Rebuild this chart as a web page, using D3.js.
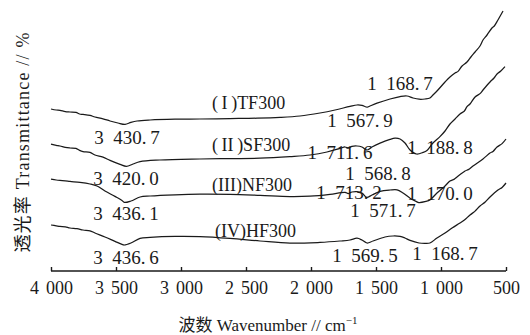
<!DOCTYPE html>
<html>
<head>
<meta charset="utf-8">
<script src="https://cdn.jsdelivr.net/npm/d3@7"></script>
<style>
  html, body { margin: 0; padding: 0; background: #fff; }
  svg { display: block; }
  text { font-family: "Liberation Serif", "Times New Roman", "Noto Sans CJK SC", serif; fill: #1a1a1a; }
</style>
</head>
<body>
<svg id="chart" width="530" height="335"></svg>
<script>
// FTIR spectra of the four fired samples, stacked with vertical offsets.
// Each pair is [wavenumber (cm^-1), transmittance (arbitrary offset units)].
const seriesNames = ["(\u2009I\u2009)TF300", "(\u2009II\u2009)SF300", "(III)NF300", "(IV)HF300"];

const tf300 = [
  [4000, 80.5], [3960, 80.0], [3931, 79.8], [3890, 79.2], [3854, 79.0], [3808, 78.8], [3780, 78.0],
  [3754, 77.8], [3700, 77.3], [3662, 76.5], [3600, 75.6], [3546, 74.5], [3485, 73.5], [3430.7, 72.8],
  [3385, 73.8], [3338, 74.5], [3238, 75.0], [3046, 75.4], [2854, 75.5], [2623, 75.7], [2415, 75.9],
  [2238, 76.3], [2085, 77.0], [1931, 78.5], [1815, 80.0], [1700, 81.8], [1646, 82.5], [1608, 82.3],
  [1567.9, 81.4], [1546, 82.0], [1492, 83.4], [1392, 85.5], [1315, 86.7], [1262, 87.0], [1215, 86.0],
  [1168.7, 85.4], [1123, 85.5], [1085, 86.0], [1062, 87.5], [1031, 89.5], [969, 94.0], [931, 96.5],
  [892, 98.5], [869, 99.3], [838, 102.0], [800, 104.0], [770, 106.5], [738, 109.0], [700, 112.0],
  [677, 115.0], [646, 117.5], [608, 121.0], [590, 122.0], [562, 125.0], [523, 129.5]
];

const sf300 = [
  [4000, 62.9], [3960, 62.3], [3931, 62.0], [3890, 61.3], [3854, 61.0], [3808, 60.8], [3780, 59.8],
  [3754, 59.2], [3700, 58.8], [3662, 57.5], [3600, 56.4], [3546, 54.8], [3469, 52.8], [3420.0, 51.8],
  [3369, 53.0], [3315, 54.2], [3162, 55.0], [2854, 55.5], [2623, 55.7], [2392, 55.9], [2162, 56.7],
  [2008, 57.5], [1877, 59.0], [1777, 60.8], [1738, 61.5], [1711.6, 60.9], [1685, 61.8], [1646, 62.0],
  [1608, 61.5], [1568.8, 60.0], [1531, 61.5], [1469, 63.4], [1392, 65.3], [1354, 65.9], [1315, 65.5],
  [1277, 63.5], [1238, 60.0], [1188.8, 58.0], [1138, 58.8], [1108, 59.8], [1062, 63.5], [1008, 66.7],
  [969, 69.5], [931, 73.0], [892, 75.5], [854, 78.0], [820, 79.5], [800, 81.7], [777, 83.0],
  [738, 86.5], [700, 88.2], [677, 90.0], [623, 94.0], [592, 96.0], [569, 98.0], [540, 99.5], [508, 101.7]
];

const nf300 = [
  [4000, 45.4], [3960, 45.0], [3931, 44.8], [3890, 44.6], [3854, 44.3], [3777, 43.8], [3700, 43.0],
  [3646, 42.0], [3585, 39.5], [3508, 36.8], [3454, 34.8], [3436.1, 33.8], [3385, 34.5], [3315, 36.5],
  [3238, 37.0], [3046, 37.6], [2854, 37.9], [2623, 37.8], [2392, 37.3], [2162, 36.7], [2008, 36.9],
  [1854, 37.8], [1738, 38.8], [1713.2, 38.2], [1685, 39.0], [1646, 39.2], [1608, 38.5], [1571.7, 36.3],
  [1531, 37.5], [1469, 39.3], [1392, 40.0], [1338, 40.1], [1292, 38.5], [1238, 35.9], [1192, 34.3],
  [1170.0, 33.7], [1115, 34.3], [1085, 35.0], [1031, 38.5], [969, 42.0], [931, 44.5], [900, 45.3],
  [877, 46.5], [815, 49.5], [790, 50.2], [754, 52.0], [677, 55.5], [623, 58.5], [600, 59.3],
  [569, 61.5], [530, 63.2], [500, 65.5]
];

const hf300 = [
  [4000, 22.5], [3960, 22.1], [3931, 21.8], [3890, 21.6], [3854, 21.0], [3800, 20.7], [3754, 20.0],
  [3700, 19.6], [3662, 18.5], [3585, 16.5], [3508, 14.3], [3454, 12.8], [3436.6, 12.5], [3385, 13.5],
  [3315, 15.8], [3238, 16.3], [3046, 16.8], [2854, 16.7], [2623, 15.8], [2392, 14.5], [2162, 13.4],
  [1931, 13.8], [1777, 14.5], [1700, 15.0], [1646, 15.9], [1608, 15.0], [1569.5, 13.5], [1523, 14.5],
  [1431, 16.5], [1369, 17.0], [1315, 16.8], [1277, 16.0], [1238, 14.8], [1168.7, 13.5], [1123, 13.3],
  [1085, 13.5], [1031, 16.0], [969, 18.5], [915, 21.0], [854, 23.5], [820, 25.0], [777, 27.5],
  [740, 29.3], [700, 32.0], [660, 34.0], [623, 36.5], [562, 40.0], [530, 41.3], [500, 43.5]
];

// Labelled absorption bands of each spectrum (cm^-1)
const tfPeaks = [3430.7, 1567.9, 1168.7];
const sfPeaks = [3420.0, 1711.6, 1568.8, 1188.8];
const nfPeaks = [3436.1, 1713.2, 1571.7, 1170.0];
const hfPeaks = [3436.6, 1569.5, 1168.7];

const xTicks = [4000, 3500, 3000, 2500, 2000, 1500, 1000, 500];

const yTitle = "\u900f\u5149\u7387 Transmittance // %";
const xTitleCn = "\u6ce2\u6570 Wavenumber // cm";

// ---------------------------------------------------------------------------
const svg = d3.select("#chart");
const x = d3.scaleLinear().domain([4000, 500]).range([51, 506]);
const y = d3.scaleLinear().domain([0, 135]).range([270, 0]);

// "3 430. 7" style number formatting with thin group spacing
function fmtWn(v) {
  const s = v.toFixed(1);
  const [ip, dp] = s.split(".");
  const head = ip.length > 3 ? ip.slice(0, ip.length - 3) + "\u2002" + ip.slice(-3) : ip;
  return head + ".\u2009" + dp;
}
function fmtTick(v) {
  const s = String(v);
  return s.length > 3 ? s.slice(0, s.length - 3) + "\u2009\u2009" + s.slice(-3) : s;
}

const line = d3.line()
  .x(d => x(d[0]))
  .y(d => y(d[1]))
  .curve(d3.curveCatmullRom.alpha(0.5));

const spectra = [tf300, sf300, nf300, hf300];
svg.append("g").selectAll("path").data(spectra).join("path")
  .attr("d", line)
  .attr("fill", "none")
  .attr("stroke", "#1a1a1a")
  .attr("stroke-width", 1.25)
  .attr("stroke-linejoin", "round");

// X axis at the bottom, ticks pointing up into the plot
const axis = d3.axisBottom(x).tickValues(xTicks).tickSize(-4).tickPadding(10).tickFormat(fmtTick);
const gx = svg.append("g").attr("transform", `translate(0,${y(0) + 1})`).call(axis);
gx.select(".domain").attr("stroke", "#1a1a1a").attr("stroke-width", 1.6).attr("d", `M${x(4000)},0H${x(500)}`);
gx.selectAll(".tick line").attr("stroke", "#1a1a1a").attr("stroke-width", 1.4);
gx.selectAll(".tick text").attr("font-size", 18).attr("fill", "#1a1a1a")
  .style("font-family", "'Liberation Serif', 'Times New Roman', serif");

// Series labels, placed in data space between the stacked spectra
const seriesLabelAt = [[2762, 83.5], [2762, 62.5], [2762, 42.5], [2738, 19.5]];
svg.append("g").selectAll("text").data(seriesNames).join("text")
  .attr("x", (d, i) => x(seriesLabelAt[i][0]))
  .attr("y", (d, i) => y(seriesLabelAt[i][1]))
  .attr("dy", "0.35em")
  .attr("font-size", 18)
  .text(d => d);

// Band annotations: anchor point (in data space) for the centre of each label
const peakSets = [tfPeaks, sfPeaks, nfPeaks, hfPeaks];
const peakLabelAt = [
  [[3415, 66.5], [1623, 75.0], [1315, 93.5]],
  [[3423, 46.0], [1777, 59.0], [1485, 48.5], [1008, 61.5]],
  [[3423, 28.5], [1708, 39.0], [1446, 30.0], [1008, 38.5]],
  [[3423, 6.5], [1585, 7.5], [969, 8.5]]
];
const ann = [];
peakSets.forEach((ps, si) => ps.forEach((p, pi) => ann.push({ v: p, at: peakLabelAt[si][pi] })));
svg.append("g").selectAll("text").data(ann).join("text")
  .attr("x", d => x(d.at[0]))
  .attr("y", d => y(d.at[1]))
  .attr("dy", "0.35em")
  .attr("text-anchor", "middle")
  .attr("font-size", 19)
  .text(d => fmtWn(d.v));

// Axis titles
svg.append("text")
  .attr("transform", `translate(23,142) rotate(-90)`)
  .attr("text-anchor", "middle")
  .attr("dy", "0.35em")
  .attr("font-size", 18)
  .attr("letter-spacing", 1.2)
  .text(yTitle);

const xt = svg.append("text")
  .attr("x", 268).attr("y", 325)
  .attr("text-anchor", "middle")
  .attr("dy", "0.35em")
  .attr("font-size", 17);
xt.append("tspan").text(xTitleCn);
xt.append("tspan").attr("font-size", 11).attr("dy", "-0.6em").text("\u22121");
</script>
</body>
</html>
